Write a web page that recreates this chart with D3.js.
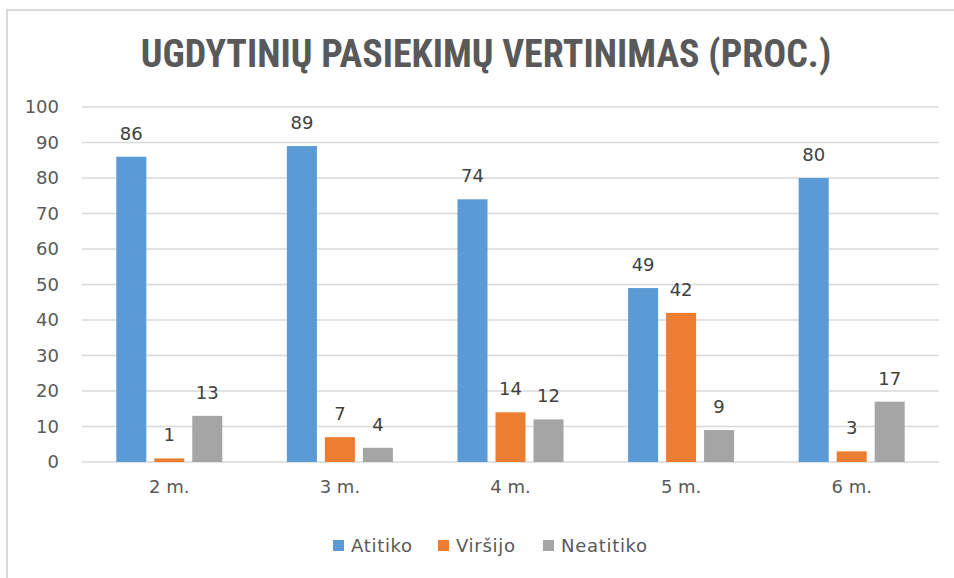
<!DOCTYPE html>
<html>
<head>
<meta charset="utf-8">
<script src="https://cdn.jsdelivr.net/npm/d3@7"></script>
<style>
  body { margin: 0; background: #fff; }
  svg text { font-family: "DejaVu Sans", "Open Sans", sans-serif; }
  svg text.title { font-family: "Liberation Sans Narrow", "Roboto Condensed", "DejaVu Sans Condensed", sans-serif; }
</style>
</head>
<body>
<div class="d3-content"></div>
<script>
const categories = ['2 m.', '3 m.', '4 m.', '5 m.', '6 m.'];
const seriesNames = ['Atitiko', 'Viršijo', 'Neatitiko'];
const atitiko = [86, 89, 74, 49, 80];
const virsijo = [1, 7, 14, 42, 3];
const neatitiko = [13, 4, 12, 9, 17];
const yTicks = [0, 10, 20, 30, 40, 50, 60, 70, 80, 90, 100];
const COLORS = ['#5B9BD5', '#ED7D31', '#A5A5A5'];

const SVG_WIDTH = 954;
const SVG_HEIGHT = 578;
const MARGIN = { top: 107, right: 15, bottom: 116, left: 84 };
const CHART_WIDTH = SVG_WIDTH - MARGIN.left - MARGIN.right;
const CHART_HEIGHT = SVG_HEIGHT - MARGIN.top - MARGIN.bottom;

const values = [atitiko, virsijo, neatitiko];
const rows = categories.map((c, i) => ({
  cat: c,
  vals: seriesNames.map((s, j) => ({ name: s, value: values[j][i], color: COLORS[j] }))
}));

const svg = d3.select('.d3-content')
  .append('svg')
  .attr('width', SVG_WIDTH)
  .attr('height', SVG_HEIGHT);

// chart frame (only top and left edges visible)
svg.append('line').attr('x1', 6).attr('x2', SVG_WIDTH).attr('y1', 10).attr('y2', 10)
  .attr('stroke', '#d9d9d9').attr('stroke-width', 2);
svg.append('line').attr('x1', 7).attr('x2', 7).attr('y1', 10).attr('y2', SVG_HEIGHT)
  .attr('stroke', '#d9d9d9').attr('stroke-width', 2);

// title
svg.append('text')
  .attr('class', 'title')
  .text('UGDYTINIŲ PASIEKIMŲ VERTINIMAS (PROC.)')
  .attr('x', 486)
  .attr('y', 67)
  .attr('text-anchor', 'middle')
  .attr('font-weight', 'bold')
  .attr('font-size', 38)
  .attr('fill', '#595959');

const x0 = d3.scaleBand()
  .domain(categories)
  .range([0, CHART_WIDTH - 2]);

const x1 = d3.scaleBand()
  .domain(seriesNames)
  .range([0, x0.bandwidth()])
  .paddingInner(0.21)
  .paddingOuter(0.85);

const yscale = d3.scaleLinear()
  .domain([0, 100])
  .range([CHART_HEIGHT, 0]);

const chart = svg.append('g')
  .attr('transform', `translate(${MARGIN.left}, ${MARGIN.top})`);

// gridlines
chart.append('g')
  .selectAll('line')
  .data(yTicks)
  .join('line')
  .attr('x1', -2)
  .attr('x2', CHART_WIDTH)
  .attr('y1', d => yscale(d))
  .attr('y2', d => yscale(d))
  .attr('stroke', '#d9d9d9')
  .attr('stroke-width', 1.5);

// y axis labels
const yAxis = chart.append('g')
  .attr('transform', 'translate(-25, 0)')
  .call(d3.axisLeft(yscale).tickValues(yTicks).tickSize(0).tickPadding(0));
yAxis.select('.domain').remove();
yAxis.selectAll('text')
  .attr('font-size', 18)
  .attr('fill', '#595959');

// x axis labels
const xAxis = chart.append('g')
  .attr('transform', `translate(0, ${CHART_HEIGHT + 18})`)
  .call(d3.axisBottom(x0).tickSize(0).tickPadding(0));
xAxis.select('.domain').remove();
xAxis.selectAll('text')
  .attr('font-size', 18)
  .attr('fill', '#595959');

const groups = chart.selectAll('.grp')
  .data(rows)
  .join('g')
  .attr('class', 'grp')
  .attr('transform', d => `translate(${x0(d.cat)}, 0)`);

groups.selectAll('rect')
  .data(d => d.vals)
  .join('rect')
  .attr('x', d => x1(d.name))
  .attr('y', d => yscale(d.value))
  .attr('width', x1.bandwidth())
  .attr('height', d => CHART_HEIGHT - yscale(d.value))
  .attr('fill', d => d.color);

groups.selectAll('.lbl')
  .data(d => d.vals)
  .join('text')
  .attr('class', 'lbl')
  .attr('x', d => x1(d.name) + x1.bandwidth() / 2)
  .attr('y', d => yscale(d.value) - 17)
  .attr('text-anchor', 'middle')
  .attr('font-size', 18)
  .attr('fill', '#404040')
  .text(d => d.value);

// legend
const legendX = [333, 438, 543];
const legend = svg.append('g');
seriesNames.forEach((s, i) => {
  legend.append('rect')
    .attr('x', legendX[i])
    .attr('y', 540)
    .attr('width', 11)
    .attr('height', 11)
    .attr('fill', COLORS[i]);
  legend.append('text')
    .attr('x', legendX[i] + 18)
    .attr('y', 552)
    .attr('font-size', 18)
    .attr('letter-spacing', 0.7)
    .attr('fill', '#595959')
    .text(s);
});
</script>
</body>
</html>
